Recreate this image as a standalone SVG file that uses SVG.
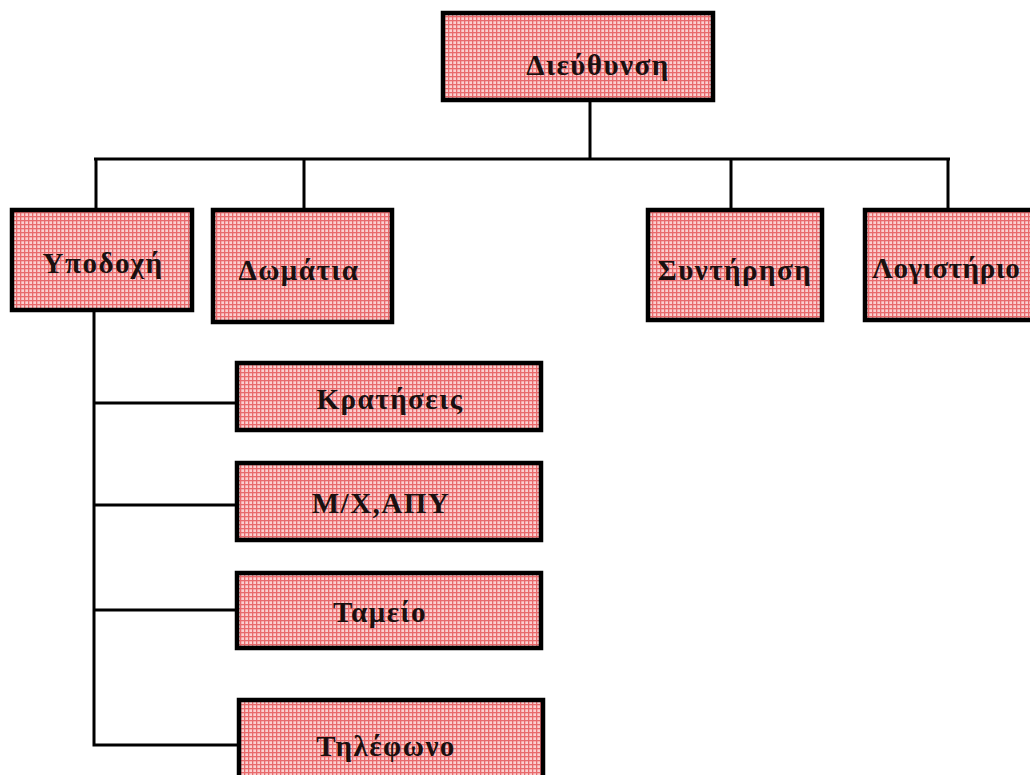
<svg xmlns="http://www.w3.org/2000/svg" width="1030" height="775" viewBox="0 0 1030 775">
  <defs>
    <!-- fine red check used as the box fill -->
    <pattern id="check" width="4" height="4" patternUnits="userSpaceOnUse">
      <rect width="4" height="4" fill="#fbd0d0"/>
      <rect x="0" y="0" width="4" height="1.3" fill="#e86a6c"/>
      <rect x="0" y="0" width="1.3" height="4" fill="#e86a6c"/>
    </pattern>
  </defs>
  <style>
    .box { fill: url(#check); stroke: #000; stroke-width: 4.5; }
    .lbl { font-family: "Liberation Serif", "DejaVu Serif", serif; font-weight: bold; font-size: 29px; fill: #1a1010; text-anchor: middle; letter-spacing: 1.5px; }
    .wire { stroke: #000; stroke-width: 3; fill: none; }
  </style>
  <rect width="1030" height="775" fill="#fff"/>

  <g id="connectors">
    <path class="wire" d="M590 100 V159"/>
    <path class="wire" d="M94 159 H950"/>
    <path class="wire" d="M96 159 V210 M304 159 V210 M731 159 V210 M948 159 V210"/>
    <path class="wire" d="M94 310 V745 H239"/>
    <path class="wire" d="M94 403 H237 M94 505 H237 M94 610 H237"/>
  </g>

  <g id="n-dieuthynsi">
    <rect class="box" x="443" y="13" width="270" height="87"/>
    <text class="lbl" x="598" y="75">Διεύθυνση</text>
  </g>
  <g id="n-ypodoxi">
    <rect class="box" x="12" y="210" width="180" height="100"/>
    <text class="lbl" x="103" y="273">Υποδοχή</text>
  </g>
  <g id="n-domatia">
    <rect class="box" x="213" y="210" width="179" height="112"/>
    <text class="lbl" x="299" y="280">Δωμάτια</text>
  </g>
  <g id="n-syntirisi">
    <rect class="box" x="648" y="210" width="174" height="110"/>
    <text class="lbl" x="735" y="280">Συντήρηση</text>
  </g>
  <g id="n-logistirio">
    <rect class="box" x="865" y="210" width="180" height="110"/>
    <text class="lbl" x="872" y="278" style="text-anchor:start;letter-spacing:0.6px">Λογιστήριο</text>
  </g>
  <g id="n-kratiseis">
    <rect class="box" x="237" y="363" width="304" height="67"/>
    <text class="lbl" x="390" y="409">Κρατήσεις</text>
  </g>
  <g id="n-mxapy">
    <rect class="box" x="237" y="463" width="304" height="77"/>
    <text class="lbl" x="381" y="513">Μ/Χ,ΑΠΥ</text>
  </g>
  <g id="n-tameio">
    <rect class="box" x="237" y="573" width="304" height="75"/>
    <text class="lbl" x="380" y="622">Ταμείο</text>
  </g>
  <g id="n-tilefono">
    <rect class="box" x="239" y="700" width="304" height="80"/>
    <text class="lbl" x="386" y="756">Τηλέφωνο</text>
  </g>
</svg>
